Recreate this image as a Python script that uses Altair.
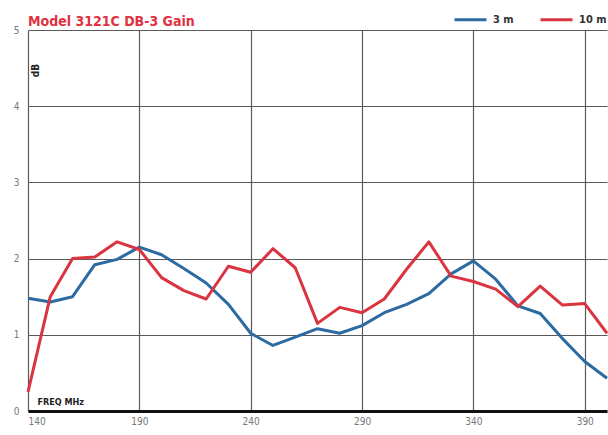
import altair as alt
import pandas as pd

# Gain of the antenna versus frequency, measured at two distances
freq_mhz = [140, 150, 160, 170, 180, 190, 200, 210, 220, 230, 240, 250, 260, 270,
            280, 290, 300, 310, 320, 330, 340, 350, 360, 370, 380, 390, 400]
gain_3m = [1.48, 1.43, 1.50, 1.92, 1.99, 2.15, 2.05, 1.87, 1.68, 1.40, 1.02, 0.86, 0.97, 1.08,
           1.02, 1.12, 1.29, 1.40, 1.54, 1.80, 1.97, 1.73, 1.38, 1.28, 0.95, 0.65, 0.43]
gain_10m = [0.25, 1.50, 2.00, 2.02, 2.22, 2.12, 1.75, 1.58, 1.47, 1.90, 1.82, 2.13, 1.88, 1.15,
            1.36, 1.29, 1.47, 1.86, 2.22, 1.77, 1.70, 1.60, 1.37, 1.64, 1.39, 1.41, 1.02]
series_names = ["3 m", "10 m"]
series_colors = ["#2c6aa2", "#d9343f"]
x_ticks = [140, 190, 240, 290, 340, 390]
y_ticks = [0, 1, 2, 3, 4, 5]

df = pd.DataFrame({
    "freq": freq_mhz * 2,
    "gain": gain_3m + gain_10m,
    "series": [series_names[0]] * len(freq_mhz) + [series_names[1]] * len(freq_mhz),
})

narrow = "Liberation Sans Narrow, DejaVu Sans Condensed, sans-serif"

chart = (
    alt.Chart(df)
    .mark_line(strokeWidth=3, strokeJoin="round")
    .encode(
        x=alt.X(
            "freq:Q",
            scale=alt.Scale(domain=[140, 400], nice=False, zero=False),
            axis=alt.Axis(
                values=x_ticks,
                title="FREQ  MHz",
                titleX=9,
                titleY=-5,
                titleAlign="left",
                titleBaseline="bottom",
                titleFont=narrow,
                titleFontSize=9,
                titleFontWeight="bold",
                titleColor="#222",
                labelFont=narrow,
                labelFontSize=10,
                labelColor="#777",
                labelFlush=True,
                labelPadding=5,
                ticks=False,
                domainColor="#111",
                domainWidth=3,
                grid=True,
                gridColor="#5a5a5a",
                gridWidth=1.2,
            ),
        ),
        y=alt.Y(
            "gain:Q",
            scale=alt.Scale(domain=[0, 5], nice=False),
            axis=alt.Axis(
                values=y_ticks,
                title="dB",
                titleX=12,
                titleY=40,
                titleAngle=270,
                titleAlign="center",
                titleFont=narrow,
                titleFontSize=10,
                titleFontWeight="bold",
                titleColor="#222",
                labelFont=narrow,
                labelFontSize=10,
                labelColor="#777",
                labelPadding=9,
                ticks=False,
                domain=False,
                grid=True,
                gridColor="#5a5a5a",
                gridWidth=1.2,
            ),
        ),
        color=alt.Color(
            "series:N",
            scale=alt.Scale(domain=series_names, range=series_colors),
            sort=series_names,
            legend=alt.Legend(
                title=None,
                orient="none",
                legendX=425,
                legendY=-28,
                direction="horizontal",
                symbolType="stroke",
                symbolSize=1024,
                symbolStrokeWidth=3,
                labelFont=narrow,
                labelFontSize=11,
                labelFontWeight="bold",
                labelColor="#333",
                labelOffset=5,
                columnPadding=20,
            ),
        ),
    )
    .properties(
        width=579,
        height=381,
        padding={"left": 28, "top": 30, "right": 1, "bottom": 24},
        autosize=alt.AutoSizeParams(type="none"),
        title=alt.TitleParams(
            "Model 3121C DB-3 Gain",
            anchor="start",
            frame="group",
            orient="top",
            baseline="bottom",
            offset=0,
            dy=41,
            font=narrow,
            fontSize=14,
            fontWeight="bold",
            color="#e0323f",
        ),
    )
    .configure_view(strokeWidth=0)
)

chart.save("out.html", embed_options={"renderer": "svg", "actions": False})
